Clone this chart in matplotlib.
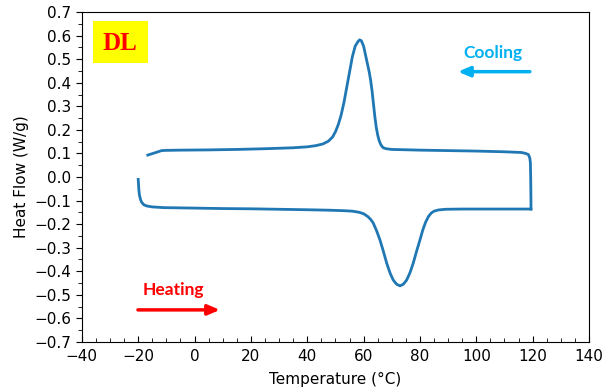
import matplotlib.pyplot as plt
from matplotlib.patches import Rectangle
from matplotlib.ticker import MultipleLocator

# DSC trace: heating run then cooling run
heat_T = [-20.0, -19.8, -19.6, -19.2, -18.8, -18.0, -17.0, -15.0, -11.0, 0, 10, 20,
          30, 40, 48, 53, 56, 58.5, 60, 61.5, 62.5, 63.4, 64.6, 65.8, 67.0, 68.2,
          69.4, 70.5, 71.7, 72.9, 74.1, 75.3, 76.5, 77.6, 78.8, 80.0, 81.0, 82.0,
          83.0, 84.0, 85.0, 86.5, 89.0, 95, 105, 115, 119.4]
heat_HF = [-0.01, -0.05, -0.075, -0.095, -0.107, -0.118, -0.123, -0.127, -0.130,
           -0.132, -0.134, -0.135, -0.137, -0.139, -0.141, -0.143, -0.145, -0.150,
           -0.156, -0.168, -0.180, -0.195, -0.228, -0.267, -0.315, -0.366, -0.408,
           -0.437, -0.455, -0.462, -0.455, -0.437, -0.405, -0.366, -0.315, -0.267,
           -0.225, -0.192, -0.168, -0.153, -0.145, -0.140, -0.137, -0.136, -0.136,
           -0.136, -0.136]

cool_T = [119.4, 119.4, 119.3, 119.2, 119.0, 118.5, 117.5, 116, 110, 100, 90, 80,
          70, 68.0, 67.0, 66.5, 66.0, 65.5, 65.0, 64.5, 64.0, 63.5, 63.0, 62.5,
          62.0, 61.0, 60.0, 59.2, 58.6, 58.0, 57.0, 56.0, 55.0, 54.0, 53.0, 52.0,
          51.0, 50.0, 49.0, 47.5, 45.5, 43, 40, 35, 25, 15, 5, -5, -10, -11.7,
          -14, -16.6]
cool_HF = [-0.136, -0.10, 0.0, 0.06, 0.08, 0.095, 0.100, 0.104, 0.107, 0.110,
           0.112, 0.114, 0.117, 0.120, 0.124, 0.130, 0.140, 0.155, 0.178, 0.210,
           0.255, 0.310, 0.365, 0.410, 0.445, 0.500, 0.555, 0.578, 0.582, 0.575,
           0.555, 0.510, 0.445, 0.380, 0.315, 0.262, 0.222, 0.192, 0.170, 0.152,
           0.140, 0.133, 0.128, 0.124, 0.120, 0.117, 0.115, 0.114, 0.113, 0.112,
           0.103, 0.093]

fig = plt.figure(figsize=(6.11, 3.89), dpi=100)
ax = fig.add_axes([0.134, 0.121, 0.830, 0.848])

ax.plot(heat_T, heat_HF, color="#1f77b4", lw=2, solid_joinstyle="round")
ax.plot(cool_T, cool_HF, color="#1f77b4", lw=2, solid_joinstyle="round")

ax.set_xlim(-40, 140)
ax.set_ylim(-0.7, 0.7)
ax.xaxis.set_major_locator(MultipleLocator(20))
ax.xaxis.set_minor_locator(MultipleLocator(5))
ax.yaxis.set_major_locator(MultipleLocator(0.1))
ax.yaxis.set_minor_locator(MultipleLocator(0.05))
ax.tick_params(axis="x", which="both", direction="in", labelsize=11, pad=5)
ax.tick_params(axis="y", which="both", direction="out", labelsize=11)
ax.tick_params(which="major", length=4)
ax.tick_params(which="minor", length=3)
ax.set_xlabel("Temperature (°C)", fontsize=11, labelpad=6)
ax.set_ylabel("Heat Flow (W/g)", fontsize=11, labelpad=4)

# sample label box
ax.add_patch(Rectangle((0.021, 0.846), 0.109, 0.128, transform=ax.transAxes,
                       facecolor="yellow", edgecolor="none", zorder=3))
ax.text(0.0755, 0.906, "DL", transform=ax.transAxes, ha="center", va="center",
        fontsize=18, fontweight="bold", color="red", family="Liberation Serif",
        zorder=4)

# direction arrows
arrow = "-|>,head_length=0.7,head_width=0.3"
ax.annotate("", xy=(93.5, 0.447), xytext=(119, 0.447),
            arrowprops=dict(arrowstyle=arrow, color="#00B0F0", lw=2.5,
                            shrinkA=0, shrinkB=0))
ax.text(106, 0.526, "Cooling", ha="center", va="center", fontsize=12.5,
        fontweight="bold", color="#00B0F0", family="Lato")
ax.annotate("", xy=(9.0, -0.564), xytext=(-20.1, -0.564),
            arrowprops=dict(arrowstyle=arrow, color="red", lw=2.5,
                            shrinkA=0, shrinkB=0))
ax.text(-7.5, -0.479, "Heating", ha="center", va="center", fontsize=12.5,
        fontweight="bold", color="red", family="Lato")

plt.savefig("out.png", dpi=100)
